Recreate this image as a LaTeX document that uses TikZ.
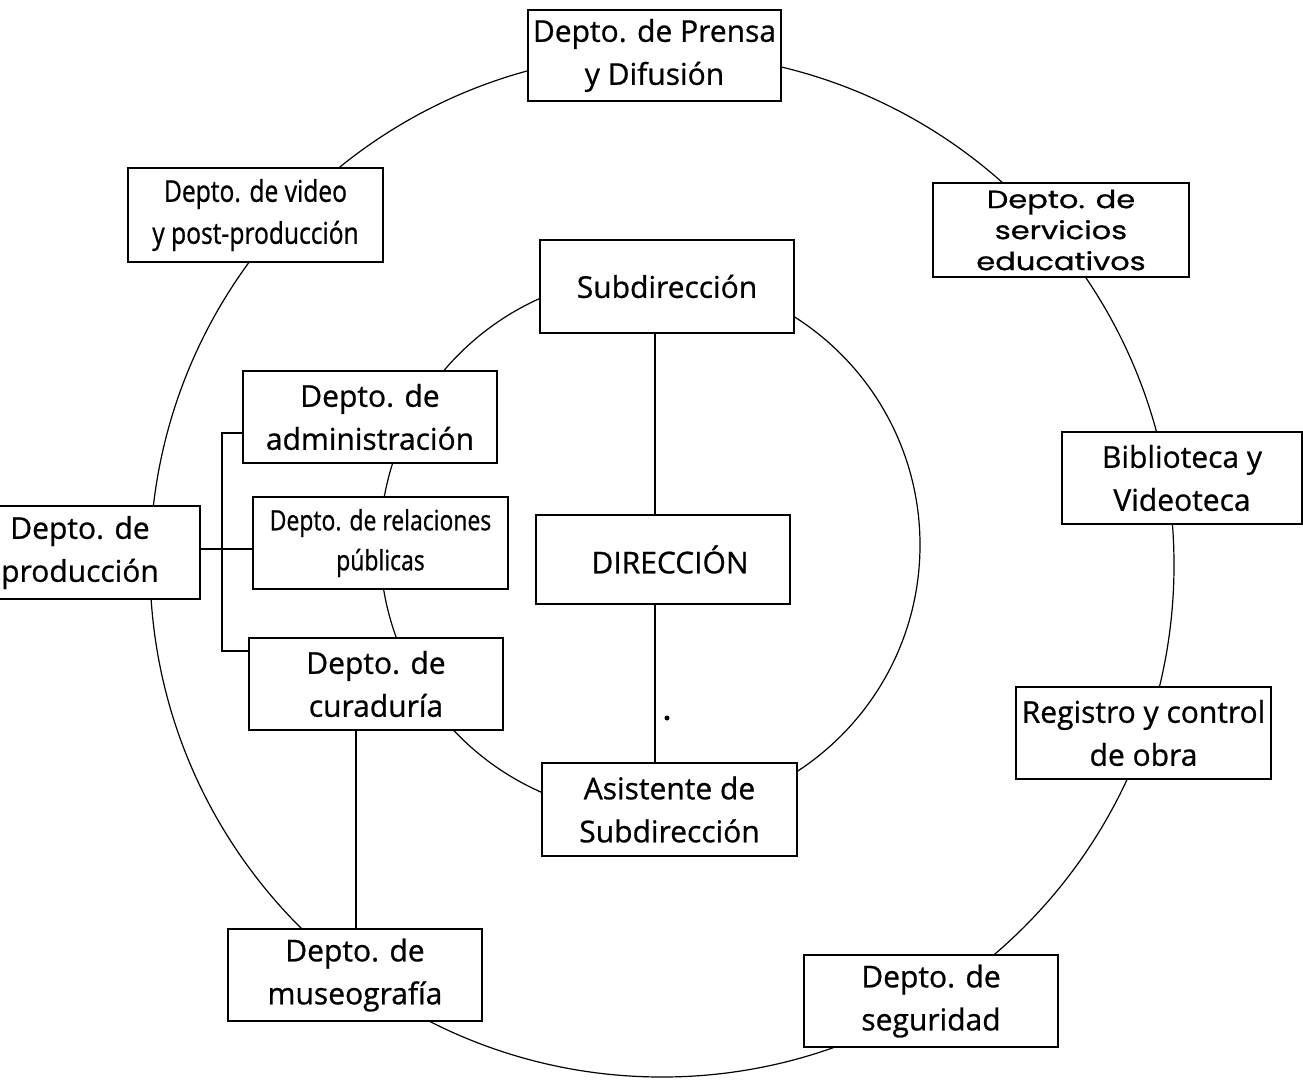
\documentclass[tikz,border=0pt]{standalone}
\usepackage{fontspec}
\setmainfont[FakeBold=0.8]{Open Sans}
\newfontfamily\condfont[FakeStretch=0.82,FakeBold=0.8]{Open Sans}
\newfontfamily\widefont[FakeStretch=1.22,FakeBold=0.8]{Poppins}
\begin{document}
\begin{tikzpicture}[x=1pt,y=-1pt,
  box/.style={draw,line width=1.4pt,fill=white,minimum width=254pt,minimum height=92pt,
    inner sep=0pt,align=center,font=\fontsize{30}{43}\selectfont},
  condbox/.style={box,font=\condfont\fontsize{30}{42}\selectfont},
  widebox/.style={box,font=\widefont\fontsize{25}{31}\selectfont},
  ring/.style={draw,line width=1.2pt},
  link/.style={draw,line width=1.3pt}]
\clip (0,0) rectangle (1303,1079);
\fill[white] (0,0) rectangle (1303,1079);
% circles
\draw[ring] (662,565) circle[radius=512pt];
\draw[ring] (650,545) circle[radius=270pt];
% nodes
\node[box,minimum width=253pt,minimum height=91pt] (prensa) at (654.5,55.5) {Depto. de Prensa\\y Difusión};
\node[condbox,minimum width=255pt,minimum height=94pt] (video) at (255.5,215) {Depto. de video\\y post-producción};
\node[widebox,minimum width=256pt,minimum height=94pt] (serv) at (1061,230) {Depto. de\\servicios\\educativos};
\node[box,minimum height=93pt] (sub) at (667,286.5) {Subdirección};
\node[box] (admin) at (370,417) {Depto. de\\administración};
\node[condbox,minimum width=255pt,font=\condfont\fontsize{28}{40}\selectfont] (rel) at (380.5,543) {Depto. de relaciones\\públicas};
\node[box,minimum width=240pt,minimum height=93pt] (prod) at (80,552.5) {Depto. de\\producción};
\node[box,minimum height=89pt] (dir) at (663,559.5) {\hspace*{14pt}DIRECCIÓN};
\node[box,minimum width=240pt] (bib) at (1182,478) {Biblioteca y\\Videoteca};
\node[box] (cur) at (376,684) {Depto. de\\curaduría};
\node[box,minimum width=255pt] (reg) at (1143.5,733) {Registro y control\\de obra};
\node[box,minimum width=255pt,minimum height=93pt] (asis) at (669.5,809.5) {Asistente de\\Subdirección};
\node[box] (mus) at (355,975) {Depto. de\\museografía};
\node[box] (seg) at (931,1001) {Depto. de\\seguridad};
% connectors
\draw[link] (sub.south -| 655,0) -- (dir.north -| 655,0);
\draw[link] (dir.south -| 655,0) -- (asis.north -| 655,0);
\draw[link] ([yshift=3.5pt]prod.east) -- ([yshift=3.5pt]prod.east -| rel.west);
\draw[link] ([yshift=-16pt]admin.west) -| (222,651) -- ([yshift=33pt]cur.west);
\draw[link] (cur.south -| 356,0) -- (mus.north -| 356,0);
\fill (667,718) circle[radius=2.5pt];
\end{tikzpicture}
\end{document}
